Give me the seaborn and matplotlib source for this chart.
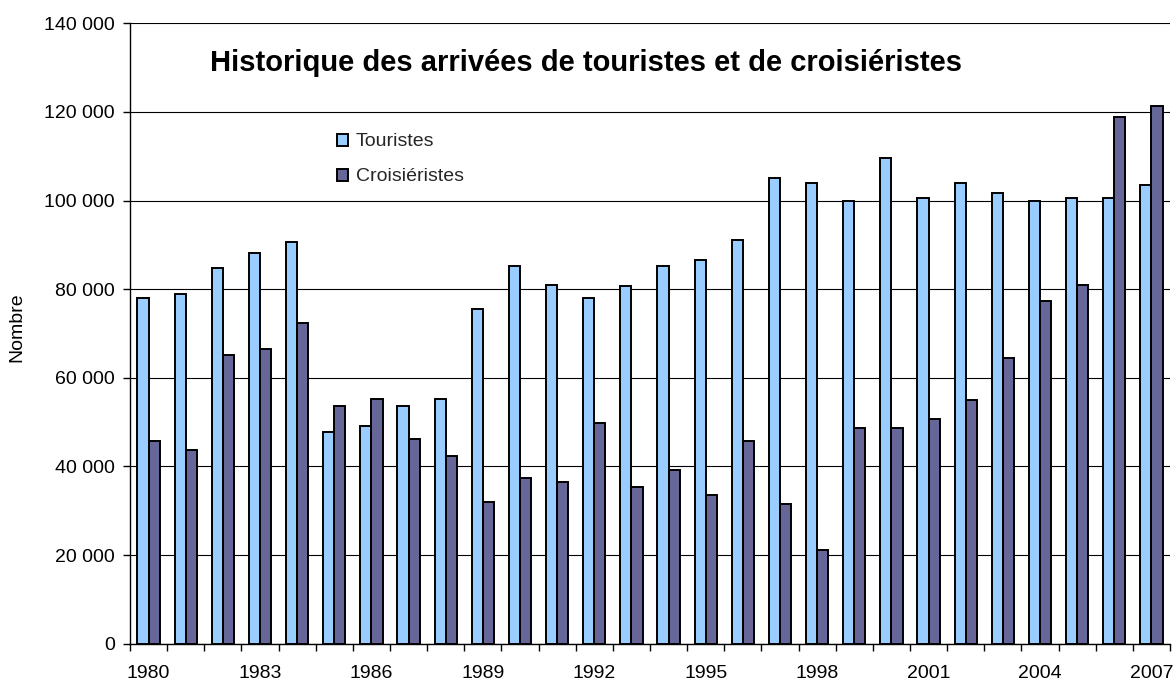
import pandas as pd
import matplotlib
matplotlib.use("Agg")
import matplotlib.pyplot as plt
from matplotlib.ticker import FuncFormatter, FixedLocator
import seaborn as sns

# Données
annees = list(range(1980, 2008))
touristes = [78100, 79000, 84800, 88100, 90700, 47800, 49100, 53700, 55300, 75600,
             85300, 81000, 78100, 80700, 85300, 86500, 91100, 105200, 104000, 99800,
             109700, 100600, 103900, 101800, 99800, 100600, 100600, 103500]
croisieristes = [45700, 43600, 65200, 66500, 72300, 53700, 55300, 46100, 42400, 32000,
                 37400, 36600, 49900, 35400, 39100, 33600, 45800, 31600, 21200, 48600,
                 48600, 50700, 54900, 64400, 77400, 81000, 118800, 121400]
series = ["Touristes", "Croisiéristes"]
couleurs = {"Touristes": "#99CCFF", "Croisiéristes": "#666699"}

df = pd.DataFrame({"annee": [str(a) for a in annees],
                   "Touristes": touristes,
                   "Croisiéristes": croisieristes})
df_long = df.melt(id_vars="annee", value_vars=series, var_name="type", value_name="nombre")

sns.set_theme(style="white")
plt.rcParams["font.family"] = ["Liberation Sans", "DejaVu Sans"]

fig = plt.figure(figsize=(11.76, 6.81), dpi=100)
ax = fig.add_axes([130 / 1176, 1 - 643.7 / 681, 1040 / 1176, 620.4 / 681])

sns.barplot(data=df_long, x="annee", y="nombre", hue="type", hue_order=series,
            palette=couleurs, width=0.6, edgecolor="black", linewidth=1.4,
            saturation=1, ax=ax, zorder=3)

ax.set_xlim(-0.5, len(annees) - 0.5)
ax.set_ylim(0, 140000)
ax.set_yticks(range(0, 140001, 20000))
ax.yaxis.set_major_formatter(FuncFormatter(lambda v, p: f"{int(v):,}".replace(",", " ")))
ax.grid(axis="y", color="black", linewidth=0.8, zorder=0)
ax.grid(axis="x", visible=False)

# graduations entre catégories, étiquettes toutes les 3 années
ax.xaxis.set_major_locator(FixedLocator(range(0, len(annees), 3)))
ax.set_xticklabels([str(a) for a in annees[::3]])
ax.xaxis.set_minor_locator(FixedLocator([i - 0.5 for i in range(len(annees) + 1)]))
ax.tick_params(axis="x", which="major", length=0, pad=15, labelsize=14, colors="black")
ax.tick_params(axis="x", which="minor", length=5, width=1, color="black", direction="out", bottom=True)
ax.tick_params(axis="y", length=5, width=1, color="black", direction="out", left=True,
               pad=6, labelsize=14, labelcolor="black")

for s in ["top", "right"]:
    ax.spines[s].set_visible(False)
for s in ["left", "bottom"]:
    ax.spines[s].set_color("black")
    ax.spines[s].set_linewidth(1)

ax.set_xlabel("")
ax.set_ylabel("Nombre", fontsize=14, color="black")
ax.yaxis.set_label_coords(-0.101, 0.51)

handles, labels = ax.get_legend_handles_labels()
ax.legend(handles, labels, loc="upper left", bbox_to_anchor=(337 / 1176, 1 - 133.5 / 681),
          bbox_transform=fig.transFigure, frameon=False, fontsize=14,
          handlelength=0.57, handleheight=0.57, handletextpad=0.4,
          labelspacing=0.92, borderpad=0, borderaxespad=0)

fig.text(586 / 1176, 1 - 63 / 681, "Historique des arrivées de touristes et de croisiéristes",
         ha="center", va="center", fontsize=21, fontweight="bold", color="black")

fig.savefig("out.png", dpi=100)
plt.close(fig)
